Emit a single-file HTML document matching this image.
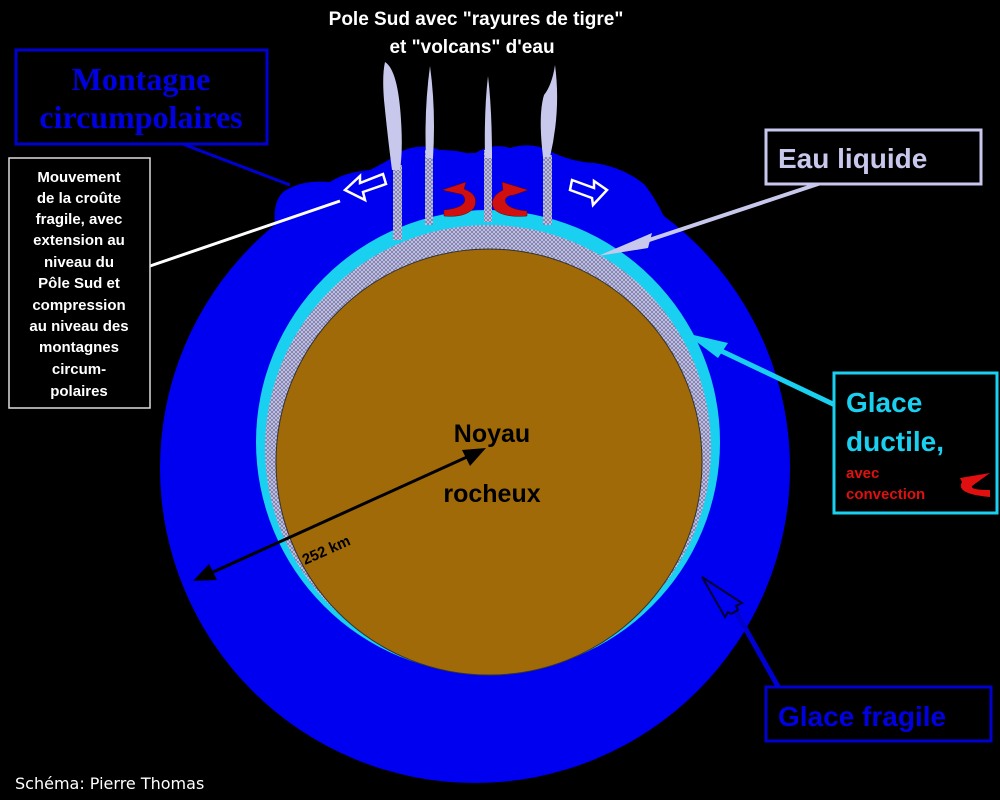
<!DOCTYPE html>
<html><head><meta charset="utf-8"><style>
body{margin:0;background:#000;}
svg{display:block}
text{font-family:"Liberation Sans",sans-serif;font-weight:bold}
</style></head><body>
<svg width="1000" height="800" viewBox="0 0 1000 800" xmlns="http://www.w3.org/2000/svg">
<defs>
<pattern id="hatch" width="4" height="4" patternUnits="userSpaceOnUse">
<rect width="4" height="4" fill="#c8c8e8"/>
<path d="M0 4L4 0M0 0L4 4" stroke="#7070a0" stroke-width="0.7"/>
</pattern>
</defs>
<rect width="1000" height="800" fill="#000"/>
<circle cx="475" cy="468" r="315" fill="#0000f0"/>
<path d="M275 225 Q272 195 290 188 Q305 180 330 182 Q345 172 370 170 Q390 160 400 152 Q420 142 440 150 Q460 150 472 155 Q492 142 510 148 Q530 142 548 150 Q570 162 595 163 Q625 168 645 185 Q660 205 670 230Z" fill="#0000f0"/>
<circle cx="488" cy="442" r="232" fill="#1ad0f0"/>
<circle cx="488" cy="448" r="223" fill="url(#hatch)"/>
<circle cx="489" cy="462" r="213" fill="#a06a08" stroke="#333" stroke-width="1"/>
<g fill="url(#hatch)">
<rect x="393" y="165" width="9" height="75"/>
<rect x="425" y="150" width="8" height="75"/>
<rect x="484" y="150" width="8" height="72"/>
<rect x="543" y="155" width="9" height="70"/>
</g>
<g fill="#c8c8ec">
<path d="M385 62 Q398 70 401 120 Q403 150 400 170 L392 170 Q388 140 384 100 Q382 75 385 62Z"/>
<path d="M430 66 Q436 110 433 158 L426 158 Q424 110 430 66Z"/>
<path d="M488 76 Q492 110 492 158 L485 158 Q484 110 488 76Z"/>
<path d="M555 65 Q561 110 550 157 L543 157 Q538 115 544 95 Q552 85 555 65Z"/>
</g>
<path d="M442 190 L466 182 L464 189 Q480 195 474 208 Q465 218 444 216 L444 210 Q464 208 465 200 Q464 194 460 194Z" fill="#d01010" stroke="#600" stroke-width="0.5"/>
<path d="M528 190 L502 182 L503 190 Q488 198 494 209 Q503 218 527 216 L527 211 Q506 209 505 200 Q507 195 514 195Z" fill="#d01010" stroke="#600" stroke-width="0.5"/>
<path d="M345 190 L360 176 L360 183 L383 174 L386 184 L363 192 L365 200Z" fill="none" stroke="#fff" stroke-width="2.5"/>
<path d="M607 190 L593 205 L592 198 L570 190 L572 180 L594 188 L594 181Z" fill="none" stroke="#fff" stroke-width="2.5"/>
<line x1="150" y1="266" x2="340" y2="201" stroke="#fff" stroke-width="3"/>
<line x1="180" y1="143" x2="290" y2="185" stroke="#0000d0" stroke-width="3"/>
<line x1="830" y1="180" x2="640" y2="243" stroke="#c8c8ec" stroke-width="4"/>
<path d="M598 256 L652 233 L648 248Z" fill="#c8c8ec"/>
<line x1="835" y1="405" x2="715" y2="348" stroke="#1ad0f0" stroke-width="5"/>
<path d="M685 333 L728 343 L718 358Z" fill="#1ad0f0"/>
<line x1="780" y1="690" x2="735" y2="610" stroke="#0000d0" stroke-width="5"/>
<path d="M702 577 L742 603 L736 606 L738 610 L731 614 L728 612 L725 617Z" fill="#0000f0" stroke="#000030" stroke-width="2"/>
<line x1="200" y1="578" x2="478" y2="452" stroke="#000" stroke-width="3"/>
<path d="M486 448 L462 450 L470 466Z" fill="#000"/>
<path d="M193 581 L217 580 L209 564Z" fill="#000"/>
<text x="305" y="565" font-size="15" fill="#000" transform="rotate(-24 305 565)">252 km</text>
<text x="476" y="25" font-size="19" fill="#fff" text-anchor="middle">Pole Sud avec "rayures de tigre"</text>
<text x="472" y="53" font-size="19" fill="#fff" text-anchor="middle">et "volcans" d'eau</text>
<rect x="16" y="50" width="251" height="94" fill="#000" stroke="#0000d0" stroke-width="3"/>
<text x="141" y="90" font-size="32" fill="#0000e0" text-anchor="middle" style="font-family:'Liberation Serif',serif;font-weight:bold">Montagne</text>
<text x="141" y="128" font-size="32" fill="#0000e0" text-anchor="middle" style="font-family:'Liberation Serif',serif;font-weight:bold">circumpolaires</text>
<rect x="9" y="158" width="141" height="250" fill="#000" stroke="#ddd" stroke-width="1.5"/>
<g font-size="15" fill="#fff" text-anchor="middle">
<text x="79" y="182">Mouvement</text><text x="79" y="203">de la croûte</text>
<text x="79" y="224">fragile, avec</text><text x="79" y="245">extension au</text>
<text x="79" y="267">niveau du</text><text x="79" y="288">Pôle Sud et</text>
<text x="79" y="310">compression</text><text x="79" y="331">au niveau des</text>
<text x="79" y="352">montagnes</text><text x="79" y="374">circum-</text>
<text x="79" y="396">polaires</text>
</g>
<rect x="766" y="130" width="215" height="54" fill="#000" stroke="#c8c8ec" stroke-width="3"/>
<text x="778" y="168" font-size="28" fill="#c8c8ec">Eau liquide</text>
<rect x="834" y="373" width="163" height="140" fill="#000" stroke="#1ad0f0" stroke-width="3"/>
<text x="846" y="412" font-size="28" fill="#1ad0f0">Glace</text>
<text x="846" y="451" font-size="28" fill="#1ad0f0">ductile,</text>
<text x="846" y="478" font-size="15" fill="#e01010">avec</text>
<text x="846" y="499" font-size="15" fill="#e01010">convection</text>
<path d="M990 497 Q955 494 962 482 L960 478 L990 473 L972 486 Q970 490 990 490Z" fill="#e01010"/>
<rect x="766" y="687" width="225" height="54" fill="#000" stroke="#0000d0" stroke-width="3"/>
<text x="778" y="726" font-size="28" fill="#0000e0">Glace fragile</text>
<text x="15" y="789" font-size="16" fill="#fff" style="font-weight:normal;font-family:'DejaVu Sans',sans-serif">Schéma: Pierre Thomas</text>
<text x="492" y="442" font-size="25" fill="#000" text-anchor="middle">Noyau</text>
<text x="492" y="502" font-size="25" fill="#000" text-anchor="middle">rocheux</text>
</svg>
</body></html>
